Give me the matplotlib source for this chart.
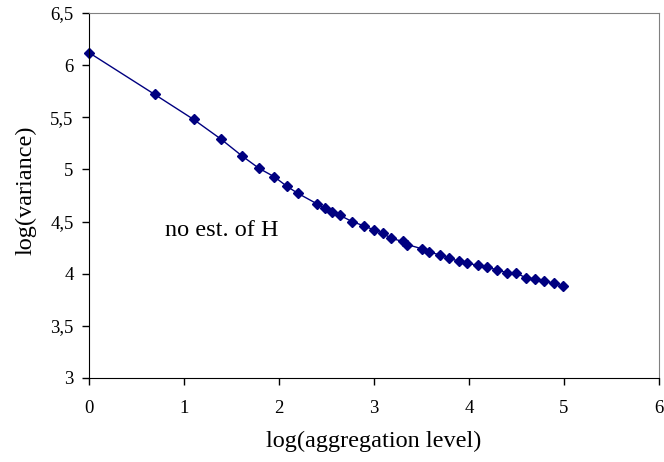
import matplotlib
matplotlib.use("Agg")
from matplotlib import pyplot as plt
from matplotlib.ticker import FuncFormatter

# log(aggregation level) and log(variance)
log_agg = [0, 0.69, 1.10, 1.39, 1.61, 1.79, 1.95, 2.08, 2.20, 2.40, 2.48, 2.56,
           2.64, 2.77, 2.89, 3.00, 3.09, 3.18, 3.30, 3.35, 3.50, 3.58, 3.69, 3.79,
           3.89, 3.98, 4.10, 4.19, 4.29, 4.40, 4.49, 4.60, 4.69, 4.79, 4.89, 4.99]
log_var = [6.12, 5.72, 5.48, 5.29, 5.13, 5.01, 4.93, 4.84, 4.77, 4.67, 4.63, 4.59,
           4.56, 4.50, 4.46, 4.42, 4.39, 4.34, 4.31, 4.28, 4.24, 4.21, 4.18, 4.15,
           4.12, 4.10, 4.08, 4.06, 4.04, 4.01, 4.01, 3.96, 3.95, 3.93, 3.91, 3.88]

x_ticks = [0, 1, 2, 3, 4, 5, 6]
y_ticks = [3, 3.5, 4, 4.5, 5, 5.5, 6, 6.5]

plt.rcParams['font.family'] = ['Liberation Serif', 'DejaVu Serif']

fig = plt.figure(figsize=(6.64, 4.62), dpi=100)
ax = fig.add_axes([89 / 664, 1 - 378 / 462, 570 / 664, 365 / 462])

ax.plot(log_agg, log_var, color='#000080', lw=1, marker='D', ms=5.5,
        markeredgecolor='#000080', clip_on=False)

ax.set_xlim(0, 6)
ax.set_ylim(3, 6.5)
ax.set_xticks(x_ticks)
ax.set_yticks(y_ticks)
ax.yaxis.set_major_formatter(FuncFormatter(lambda v, p: f"{v:g}".replace('.', ',')))
ax.tick_params(direction='out', length=5, width=1, labelsize=13.5, colors='black')
ax.tick_params(axis='y', pad=6)
ax.tick_params(axis='x', pad=11)

for s in ['top', 'right']:
    ax.spines[s].set_color('#808080')
for s in ['left', 'bottom']:
    ax.spines[s].set_color('black')

ax.text(0.8, 4.41, 'no est. of H', fontsize=17.5, va='center', ha='left')

fig.text(374 / 664, 1 - 441 / 462, 'log(aggregation level)', fontsize=17.5,
         ha='center', va='center')
fig.text(26 / 664, 1 - 190 / 462, 'log(variance)', fontsize=17.5, rotation=90,
         ha='center', va='center')

fig.savefig('out.png', dpi=100)
